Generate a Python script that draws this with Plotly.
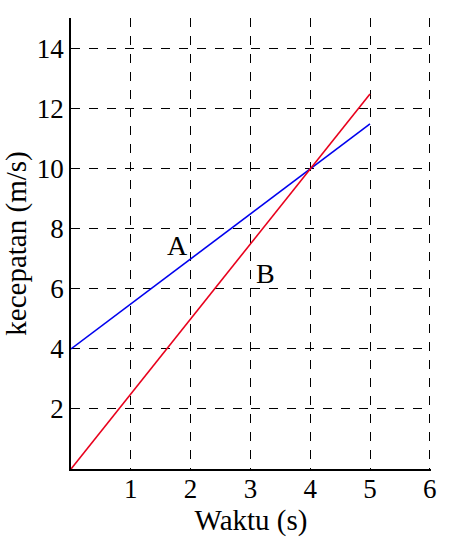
import plotly.graph_objects as go

time_s = [0, 5]
speed_A = [4, 11.5]
speed_B = [0, 12.5]
x_ticks = [1, 2, 3, 4, 5, 6]
y_ticks = [2, 4, 6, 8, 10, 12, 14]
labels = ["A", "B"]
label_x = [1.78, 3.25]
label_y = [7.45, 6.5]

FONT = "Liberation Serif, Times New Roman, serif"

fig = go.Figure()
fig.add_trace(go.Scatter(x=time_s, y=speed_A, mode="lines",
                         line=dict(color="#0000ee", width=1.6), showlegend=False))
fig.add_trace(go.Scatter(x=time_s, y=speed_B, mode="lines",
                         line=dict(color="#e8001c", width=1.6), showlegend=False))

for t, lx, ly in zip(labels, label_x, label_y):
    fig.add_annotation(x=lx, y=ly, text=t, showarrow=False,
                       font=dict(family=FONT, size=28, color="black"))

fig.update_layout(
    width=450, height=540,
    margin=dict(l=71, r=19, t=18, b=71),
    paper_bgcolor="white", plot_bgcolor="white",
    font=dict(family=FONT, size=27, color="black"),
)
fig.update_xaxes(range=[0, 6.02], tickvals=x_ticks, ticktext=[str(v) for v in x_ticks],
                 showline=True, linecolor="black", linewidth=1.5,
                 showgrid=True, gridcolor="black", gridwidth=1, griddash="dash",
                 zeroline=False, ticks="", ticklen=0, automargin=False,
                 ticklabelstandoff=-5,
                 title=dict(text="Waktu (s)", font=dict(size=29), standoff=4),
                 tickfont=dict(size=27))
fig.update_yaxes(range=[0, 15.03], tickvals=y_ticks, ticktext=[str(v) for v in y_ticks],
                 showline=True, linecolor="black", linewidth=1.5,
                 showgrid=True, gridcolor="black", gridwidth=1, griddash="dash",
                 zeroline=False, ticks="", ticklen=0, automargin=False,
                 title=dict(text="kecepatan (m/s)", font=dict(size=29), standoff=4),
                 tickfont=dict(size=27))

fig.write_html("out.html", config={"displayModeBar": False},
               post_script="document.body.style.margin='0px';document.body.style.overflow='hidden';")
